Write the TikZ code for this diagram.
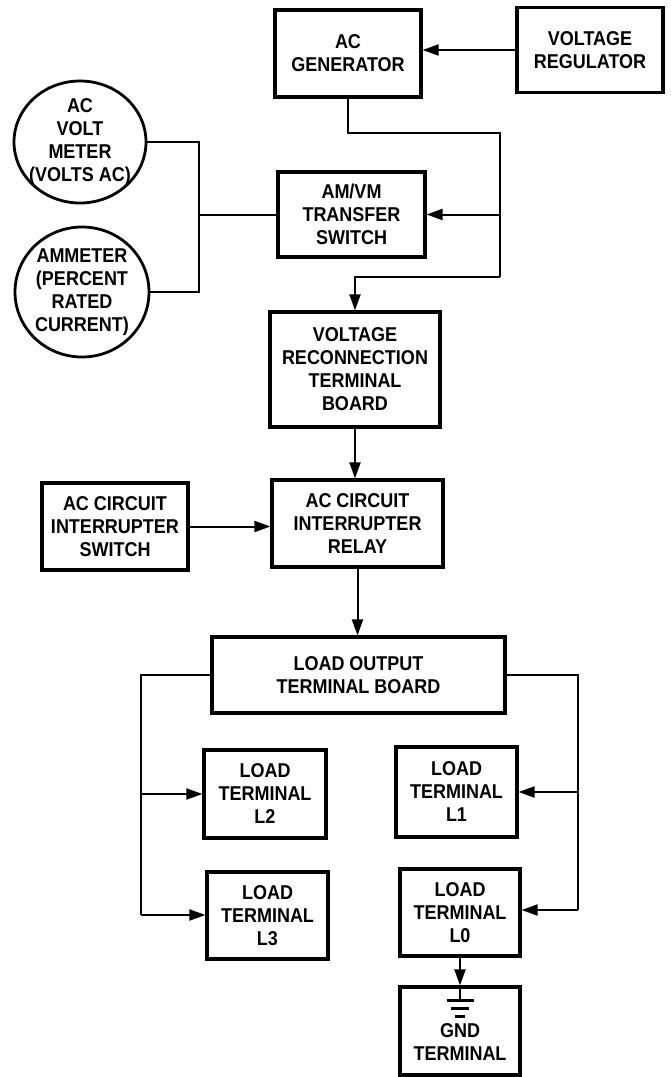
\documentclass[tikz,border=0pt]{standalone}
\usepackage{fontspec}
\setmainfont{Liberation Sans}[FakeStretch=0.9]
\usetikzlibrary{arrows.meta,shapes.geometric}
\begin{document}
\begin{tikzpicture}[x=1pt,y=-1pt,
  lbl/.style={align=center,inner sep=0pt,font=\fontsize{20}{23}\selectfont\bfseries},
  box/.style={lbl,draw,line width=3.2pt},
  meter/.style={ellipse,draw,line width=2.8pt,inner sep=0pt},
  wire/.style={line width=2pt},
  arr/.style={line width=2pt,-{Triangle[length=16pt,width=11pt]}},
]
\useasboundingbox (0,0) rectangle (671,1077);

% boxes
\node[box,minimum width=146pt,minimum height=87pt] (gen) at (348,53.5) {AC\\GENERATOR};
\node[box,minimum width=146pt,minimum height=85pt] (vr) at (590,50) {VOLTAGE\\REGULATOR};
\node[box,minimum width=147pt,minimum height=85pt] (amvm) at (351.5,214.5) {AM/VM\\TRANSFER\\SWITCH};
\node[box,minimum width=170pt,minimum height=115pt] (vrtb) at (355,369.5) {VOLTAGE\\RECONNECTION\\TERMINAL\\BOARD};
\node[box,minimum width=171pt,minimum height=87pt] (relay) at (357.5,523.5) {AC CIRCUIT\\INTERRUPTER\\RELAY};
\node[box,minimum width=146pt,minimum height=87pt] (cis) at (115,526.5) {AC CIRCUIT\\INTERRUPTER\\SWITCH};
\node[box,minimum width=293pt,minimum height=76pt] (lotb) at (358.5,675) {LOAD OUTPUT\\TERMINAL BOARD};
\node[box,minimum width=122pt,minimum height=88pt] (l2) at (265,794) {LOAD\\TERMINAL\\L2};
\node[box,minimum width=121pt,minimum height=90pt] (l1) at (456.5,792) {LOAD\\TERMINAL\\L1};
\node[box,minimum width=121pt,minimum height=87pt] (l3) at (267.5,915.5) {LOAD\\TERMINAL\\L3};
\node[box,minimum width=120pt,minimum height=87pt] (l0) at (460,912.5) {LOAD\\TERMINAL\\L0};
\node[box,minimum width=120pt,minimum height=88pt] (gnd) at (460,1031) {\vphantom{X}\\GND\\TERMINAL};

% meters
\node[meter,minimum width=132pt,minimum height=122pt] (vm) at (80,142) {};
\node[lbl] (vmt) at (vm.center) {AC\\VOLT\\METER\\(VOLTS AC)};
\node[meter,minimum width=134pt,minimum height=130pt] (am) at (82,292) {};
\node[lbl] (amt) at (am.center) {AMMETER\\(PERCENT\\RATED\\CURRENT)};

% junction coordinates
\coordinate (tA) at (500,133);
\coordinate (tB) at (500,277);
\coordinate (mj) at (199,214.5);
\coordinate (lb) at (141,915);
\coordinate (rb) at (578,910);

% top connectors
\draw[arr] (vr.west) -- (vr.west -| gen.east);
\draw[wire] (gen.south) |- (tA) -- (tB);
\draw[arr] (tA |- amvm.east) -- (amvm.east);
\draw[arr] (tB) -| (vrtb.north);
\draw[wire] (vm.east) -| (mj) |- (am.east);
\draw[wire] (mj) -- (mj -| amvm.west);

% middle
\draw[arr] (vrtb.south) -- (vrtb.south |- relay.north);
\draw[arr] (cis.east) -- (cis.east -| relay.west);
\draw[arr] (relay.south) -- (relay.south |- lotb.north);

% load terminals
\draw[wire] (lotb.west) -| (lb);
\draw[arr] (lb |- l2.west) -- (l2.west);
\draw[arr] (lb) -- (lb -| l3.west);
\draw[wire] (lotb.east) -| (rb);
\draw[arr] (rb |- l1.east) -- (l1.east);
\draw[arr] (rb) -- (rb -| l0.east);
\draw[arr] (l0.south) -- (l0.south |- gnd.north);

% ground symbol
\draw[line width=2.6pt] (gnd.north) -- ++(0,15);
\draw[line width=2.6pt] (gnd.north) ++(-13.5,15) -- ++(27,0);
\draw[line width=2.6pt] (gnd.north) ++(-9,23) -- ++(18,0);
\draw[line width=2.6pt] (gnd.north) ++(-5,31) -- ++(10,0);
\end{tikzpicture}
\end{document}
